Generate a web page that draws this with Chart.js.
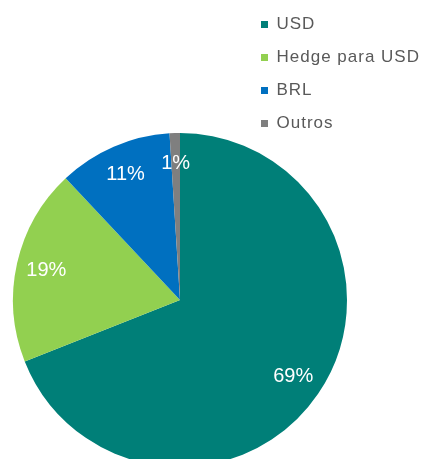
<!DOCTYPE html>
<html>
<head>
<meta charset="utf-8">
<script src="https://cdn.jsdelivr.net/npm/chart.js@4/dist/chart.umd.min.js"></script>
<style>
  html, body { margin: 0; padding: 0; background: #fff; overflow: hidden; }
  #wrap { width: 427px; height: 459px; overflow: hidden; }
</style>
</head>
<body>
<div id="wrap">
  <canvas id="pieChart" width="427" height="600"></canvas>
</div>
<script>
const categories = ['USD', 'Hedge para USD', 'BRL', 'Outros'];
const shares = [69, 19, 11, 1];
const sliceColors = ['#007f78', '#92d050', '#0070c0', '#7f7f7f'];

// slightly spaced legend text, like the original
const letterSpacing = {
    id: 'letterSpacing',
    beforeUpdate(chart) {
        chart.ctx.letterSpacing = '1px';
    },
    // legend box is capped at half the free width; stretch it to the edge so the text isn't clipped
    afterLayout(chart) {
        const lg = chart.legend;
        lg.right = chart.width;
        lg.width = lg.right - lg.left;
    }
};

// percent labels inside the slices
const sliceLabels = {
    id: 'sliceLabels',
    afterDatasetsDraw(chart) {
        const ctx = chart.ctx;
        const meta = chart.getDatasetMeta(0);
        ctx.save();
        ctx.letterSpacing = '0px';
        ctx.fillStyle = '#ffffff';
        ctx.font = '20px "Liberation Sans", Arial, sans-serif';
        ctx.textAlign = 'center';
        ctx.textBaseline = 'middle';
        meta.data.forEach((arc, i) => {
            const mid = (arc.startAngle + arc.endAngle) / 2;
            const r = arc.outerRadius * 0.82;
            ctx.fillText(shares[i] + '%', arc.x + Math.cos(mid) * r, arc.y + Math.sin(mid) * r);
        });
        ctx.restore();
    }
};

const ctx = document.getElementById('pieChart').getContext('2d');
new Chart(ctx, {
    type: 'pie',
    data: {
        labels: categories,
        datasets: [{
            data: shares,
            backgroundColor: sliceColors,
            borderWidth: 0,
            clip: false
        }]
    },
    options: {
        responsive: false,
        animation: false,
        radius: 167,
        layout: { padding: { left: 115, top: 0, right: 52, bottom: 0 } },
        plugins: {
            legend: {
                position: 'right',
                align: 'start',
                labels: {
                    boxWidth: 7,
                    boxHeight: 7,
                    padding: 16,
                    color: '#595959',
                    font: { size: 17, family: '"Liberation Sans", Arial, sans-serif' }
                }
            },
            tooltip: { enabled: false }
        }
    },
    plugins: [letterSpacing, sliceLabels]
});
</script>
</body>
</html>
